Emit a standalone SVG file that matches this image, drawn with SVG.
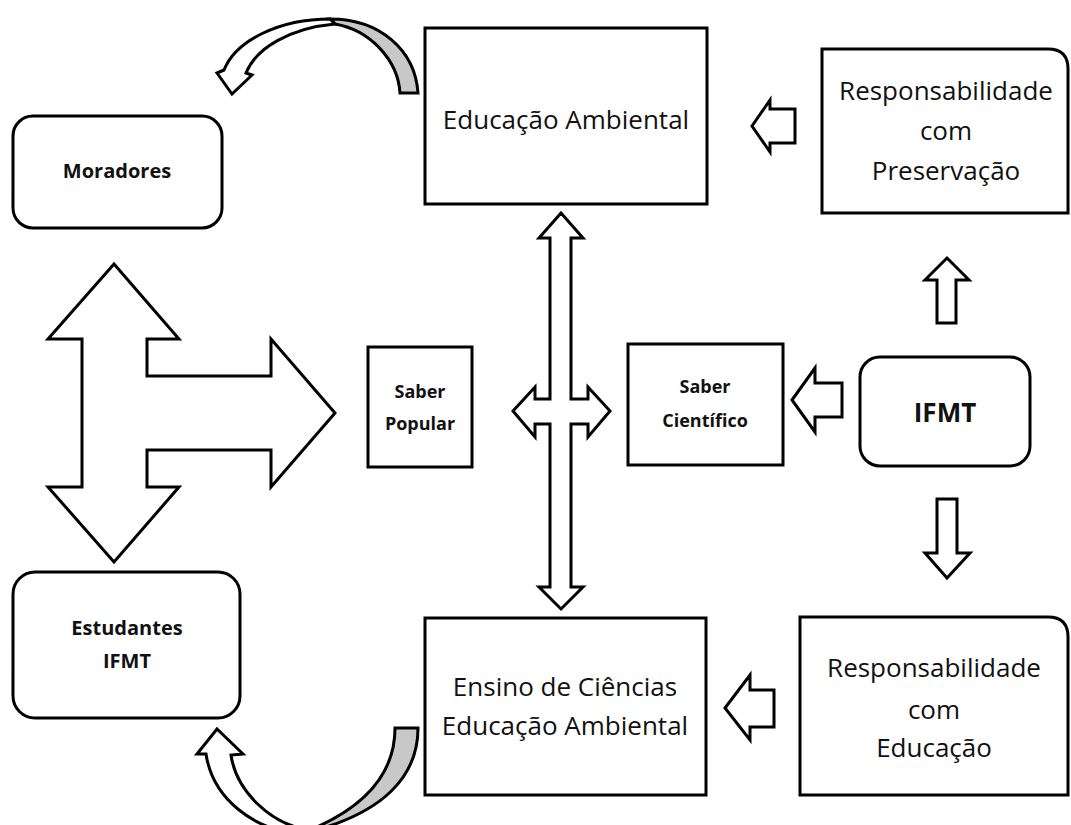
<svg xmlns="http://www.w3.org/2000/svg" width="1071" height="825" viewBox="0 0 1071 825">
<style>
.box{fill:#fff;stroke:#000;stroke-width:3}
.arr{fill:#fff;stroke:#000;stroke-width:3;stroke-linejoin:miter}
.gray{fill:#c8c8c8;stroke:#000;stroke-width:3}
.t{font-family:"Open Sans","Liberation Sans",sans-serif;font-size:26px;fill:#111;text-anchor:middle}
.b{font-family:"Open Sans","Liberation Sans",sans-serif;font-weight:bold;fill:#111;text-anchor:middle}
</style>
<rect width="1071" height="825" fill="#fff"/>
<g id="connectors">
  <path class="gray" d="M330,19 C380,19 415,50 418,93 L400,93 C398,60 370,30 335,24 Z"/>
  <path class="arr" d="M217,73 L232,94 L252,75 L246,73 C256,48 290,28 335,24 L330,19 C280,19 236,40 224,70 Z"/>
  <path class="gray" d="M395,728 L418,728 C418,775 385,815 300,834 L310,830 C370,805 395,770 395,728 Z"/>
  <path class="arr" d="M197,754 L217,729 L243,754 L231,755 C236,790 270,825 310,830 L300,834 C255,830 213,800 206,754 Z"/>
  <path class="arr" d="M114,264 L179,339 L147,339 L147,376 L271,376 L271,339 L335,413 L271,487 L271,450 L147,450 L147,487 L179,487 L114,562 L48,487 L82,487 L82,339 L48,339 Z"/>
  <path class="arr" d="M561,213 L583,238 L571,238 L571,399 L588,399 L588,387 L610,411 L588,437 L588,424 L571,424 L571,587 L583,587 L561,609 L539,587 L550,587 L550,424 L535,424 L535,437 L513,411 L535,387 L535,399 L550,399 L550,238 L539,238 Z"/>
  <path class="arr" d="M752,126 L770,100 L770,109 L795,109 L795,143 L770,143 L770,152 Z"/>
  <path class="arr" d="M792,400 L815,368 L815,383 L842,383 L842,417 L815,417 L815,432 Z"/>
  <path class="arr" d="M947,258 L969,280 L956,280 L956,323 L937,323 L937,280 L925,280 Z"/>
  <path class="arr" d="M947,578 L970,553 L957,553 L957,499 L937,499 L937,553 L925,553 Z"/>
  <path class="arr" d="M725,708 L750,675 L750,690 L774,690 L774,727 L750,727 L750,740 Z"/>
</g>
<g id="moradores">
  <rect class="box" x="13" y="116" width="209" height="112" rx="20"/>
  <text class="b" x="117" y="178" font-size="20">Moradores</text>
</g>
<g id="estudantes">
  <rect class="box" x="13" y="572" width="227" height="146" rx="22"/>
  <text class="b" x="127" y="635" font-size="20">Estudantes</text>
  <text class="b" x="127" y="668" font-size="20">IFMT</text>
</g>
<g id="educacao-ambiental">
  <rect class="box" x="425" y="28" width="282" height="176"/>
  <text class="t" x="566" y="129">Educação Ambiental</text>
</g>
<g id="resp-preservacao">
  <path class="box" d="M822,49 L1048,49 Q1068,49 1068,69 L1068,213 L822,213 Z"/>
  <text class="t" x="946" y="100" font-size="27">Responsabilidade</text>
  <text class="t" x="946" y="140" font-size="27">com</text>
  <text class="t" x="946" y="180" font-size="27">Preservação</text>
</g>
<g id="saber-popular">
  <rect class="box" x="368" y="347" width="104" height="120"/>
  <text class="b" x="420" y="398" font-size="18">Saber</text>
  <text class="b" x="420" y="430" font-size="18">Popular</text>
</g>
<g id="saber-cientifico">
  <rect class="box" x="628" y="344" width="155" height="121"/>
  <text class="b" x="705" y="393" font-size="18">Saber</text>
  <text class="b" x="705" y="427" font-size="18">Científico</text>
</g>
<g id="ifmt">
  <rect class="box" x="860" y="357" width="170" height="109" rx="20"/>
  <text class="b" x="945" y="422" font-size="26">IFMT</text>
</g>
<g id="ensino">
  <rect class="box" x="425" y="618" width="281" height="177"/>
  <text class="t" x="565" y="696">Ensino de Ciências</text>
  <text class="t" x="565" y="735">Educação Ambiental</text>
</g>
<g id="resp-educacao">
  <path class="box" d="M800,617 L1048,617 Q1068,617 1068,637 L1068,795 L800,795 Z"/>
  <text class="t" x="934" y="677" font-size="27">Responsabilidade</text>
  <text class="t" x="934" y="719" font-size="27">com</text>
  <text class="t" x="934" y="757" font-size="27">Educação</text>
</g>
</svg>
